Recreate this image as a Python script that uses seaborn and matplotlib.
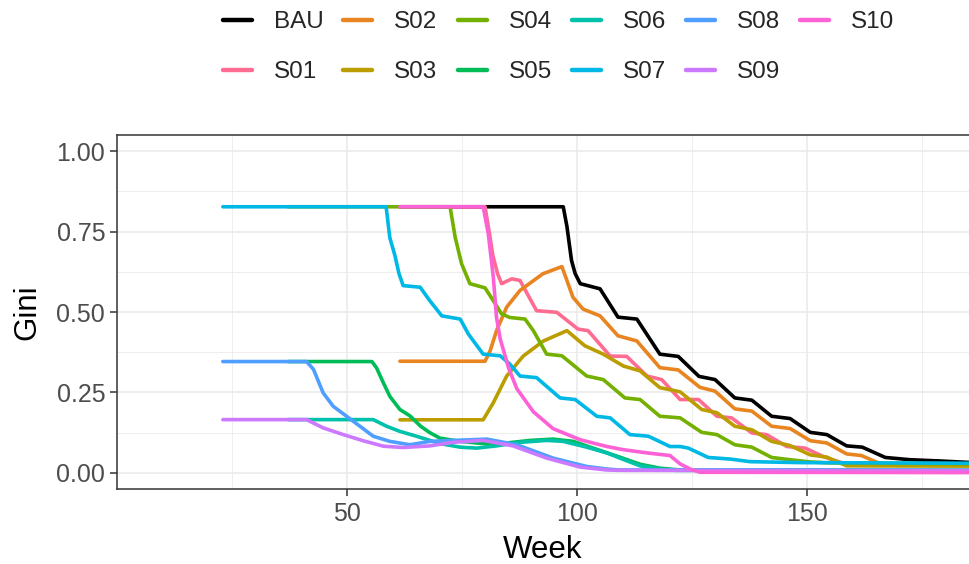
import math
import numpy as np
import pandas as pd
import matplotlib
matplotlib.use("Agg")
import matplotlib.pyplot as plt
from matplotlib.lines import Line2D
import seaborn as sns

# ---------------- data ----------------
scenarios = ["BAU", "S01", "S02", "S03", "S04", "S05", "S06", "S07", "S08", "S09", "S10"]

bau_week = [61.5, 97.0, 97.8, 98.8, 99.6, 100.7, 105.0, 108.9, 113.0, 118.0, 122.0, 126.5, 130.0, 134.3,
            138.0, 142.3, 146.3, 150.7, 154.3, 158.6, 162.0, 167.0, 172.4, 179.0, 186.0]
bau_gini = [0.827, 0.827, 0.766, 0.660, 0.619, 0.588, 0.572, 0.484, 0.478, 0.369, 0.362, 0.300, 0.290, 0.233,
            0.226, 0.176, 0.169, 0.126, 0.119, 0.084, 0.080, 0.048, 0.041, 0.037, 0.032]

s01_week = [61.5, 80.0, 81.0, 81.7, 82.7, 83.6, 85.8, 87.6, 91.2, 95.6, 100.2, 102.4, 107.2, 110.8, 115.2,
            118.4, 122.4, 126.4, 130.4, 133.6, 138.0, 141.2, 145.6, 149.6, 153.5, 155.4, 158.0, 186.0]
s01_gini = [0.827, 0.827, 0.740, 0.676, 0.620, 0.588, 0.603, 0.598, 0.504, 0.499, 0.447, 0.442, 0.363, 0.362, 0.301,
            0.290, 0.228, 0.228, 0.176, 0.171, 0.124, 0.119, 0.082, 0.077, 0.051, 0.041, 0.030, 0.028]

s02_week = [61.5, 80.0, 81.1, 82.5, 84.7, 87.6, 92.6, 96.7, 97.8, 99.1, 101.3, 105.0, 108.9, 113.0, 118.0,
            122.0, 126.7, 130.0, 134.3, 138.0, 142.3, 146.3, 150.7, 154.3, 158.6, 161.8, 166.0, 186.0]
s02_gini = [0.347, 0.347, 0.379, 0.442, 0.515, 0.567, 0.619, 0.641, 0.598, 0.546, 0.509, 0.488, 0.426, 0.410, 0.327,
            0.320, 0.266, 0.254, 0.199, 0.192, 0.145, 0.138, 0.100, 0.093, 0.059, 0.054, 0.028, 0.027]

s03_week = [61.5, 79.6, 81.8, 84.7, 88.3, 92.7, 97.8, 101.7, 105.7, 110.1, 113.7, 118.0, 122.4, 127.1, 130.4,
            134.3, 138.0, 142.3, 146.3, 150.7, 154.3, 158.6, 186.0]
s03_gini = [0.165, 0.165, 0.218, 0.301, 0.363, 0.410, 0.442, 0.395, 0.369, 0.332, 0.317, 0.265, 0.252, 0.197, 0.187,
            0.145, 0.134, 0.098, 0.085, 0.056, 0.049, 0.022, 0.021]

s04_week = [37.2, 72.4, 73.5, 74.9, 76.7, 80.0, 81.8, 83.6, 85.4, 88.7, 90.5, 93.4, 96.7, 102.1, 105.7, 110.4,
            113.7, 118.0, 122.4, 127.1, 130.4, 134.3, 138.0, 142.3, 146.3, 150.7, 155.0, 186.0]
s04_gini = [0.827, 0.827, 0.733, 0.650, 0.588, 0.575, 0.535, 0.494, 0.483, 0.478, 0.442, 0.369, 0.364, 0.301, 0.290, 0.233,
            0.228, 0.176, 0.171, 0.126, 0.119, 0.0875, 0.080, 0.048, 0.041, 0.034, 0.031, 0.028]

s05_week = [37.2, 55.4, 56.4, 57.9, 59.3, 61.5, 63.7, 66.0, 68.0, 70.2, 74.6, 80.4, 84.7, 89.8, 94.8, 99.2,
            103.5, 109.3, 113.7, 118.0, 122.4, 186.0]
s05_gini = [0.346, 0.346, 0.327, 0.280, 0.238, 0.197, 0.177, 0.145, 0.125, 0.108, 0.098, 0.090, 0.093, 0.101, 0.105, 0.098,
            0.077, 0.049, 0.027, 0.0147, 0.009, 0.008]

s06_week = [37.2, 55.7, 58.6, 61.5, 65.2, 68.0, 70.2, 74.6, 78.2, 82.5, 87.6, 93.4, 97.0, 102.1, 106.5, 109.3,
            113.7, 118.0, 121.3, 186.0]
s06_gini = [0.1656, 0.1656, 0.145, 0.129, 0.1135, 0.101, 0.091, 0.080, 0.077, 0.084, 0.095, 0.101, 0.098, 0.080, 0.062, 0.046,
            0.022, 0.0116, 0.008, 0.007]

s07_week = [23.0, 58.5, 59.3, 60.4, 61.3, 62.2, 65.9, 68.0, 70.6, 74.6, 76.4, 79.6, 83.3, 85.4, 87.6, 91.2,
            96.3, 99.6, 104.3, 107.2, 111.5, 115.5, 120.2, 122.4, 124.2, 128.5, 133.3, 137.6, 148.5, 186.0]
s07_gini = [0.827, 0.827, 0.731, 0.676, 0.619, 0.582, 0.577, 0.535, 0.488, 0.478, 0.431, 0.369, 0.364, 0.338, 0.301, 0.296,
            0.233, 0.228, 0.176, 0.171, 0.119, 0.114, 0.082, 0.082, 0.077, 0.048, 0.043, 0.035, 0.032, 0.030]

s08_week = [23.0, 41.2, 42.7, 44.8, 47.0, 49.9, 52.8, 55.7, 59.3, 63.7, 68.0, 73.1, 80.4, 86.9, 94.8, 102.1,
            106.5, 109.3, 186.0]
s08_gini = [0.346, 0.346, 0.322, 0.249, 0.207, 0.176, 0.145, 0.114, 0.098, 0.0875, 0.098, 0.101, 0.105, 0.0875, 0.046, 0.020,
            0.012, 0.009, 0.008]

s09_week = [23.0, 41.2, 44.8, 49.2, 53.5, 57.9, 62.2, 68.0, 73.1, 79.6, 86.1, 93.4, 100.7, 106.5, 109.3, 186.0]
s09_gini = [0.1656, 0.1656, 0.140, 0.119, 0.100, 0.083, 0.079, 0.084, 0.095, 0.101, 0.084, 0.046, 0.018, 0.009, 0.008, 0.007]

s10_week = [61.5, 79.6, 80.7, 81.8, 82.5, 83.3, 85.1, 86.9, 90.5, 94.8, 100.7, 106.5, 110.1, 115.9, 120.2,
            122.4, 124.6, 126.7, 186.0]
s10_gini = [0.827, 0.827, 0.744, 0.608, 0.483, 0.416, 0.327, 0.262, 0.190, 0.1375, 0.103, 0.082, 0.072, 0.061, 0.054,
            0.028, 0.012, 0.002, 0.001]

weeks = [bau_week, s01_week, s02_week, s03_week, s04_week, s05_week, s06_week, s07_week, s08_week, s09_week, s10_week]
ginis = [bau_gini, s01_gini, s02_gini, s03_gini, s04_gini, s05_gini, s06_gini, s07_gini, s08_gini, s09_gini, s10_gini]

x_ticks = [50, 100, 150]
y_ticks = [0.0, 0.25, 0.5, 0.75, 1.0]
y_tick_labels = ["0.00", "0.25", "0.50", "0.75", "1.00"]

# ---------------- colours (ggplot-like HCL hues) ----------------
def hcl_hex(h, c=100.0, l=65.0):
    hr = math.radians(h)
    u = c * math.cos(hr)
    v = c * math.sin(hr)
    Xn, Yn, Zn = 95.047, 100.0, 108.883
    Y = Yn * ((l + 16.0) / 116.0) ** 3
    den = Xn + 15 * Yn + 3 * Zn
    un, vn = 4 * Xn / den, 9 * Yn / den
    up = u / (13 * l) + un
    vp = v / (13 * l) + vn
    X = 9.0 * Y * up / (4.0 * vp)
    Z = Y * (12 - 3 * up - 20 * vp) / (4 * vp)
    X, Y, Z = X / 100, Y / 100, Z / 100
    r = 3.240479 * X - 1.537150 * Y - 0.498535 * Z
    g = -0.969256 * X + 1.875992 * Y + 0.041556 * Z
    b = 0.055648 * X - 0.204043 * Y + 1.057311 * Z

    def gam(t):
        t = 12.92 * t if t <= 0.0031308 else 1.055 * (t ** (1 / 2.4)) - 0.055
        return min(1.0, max(0.0, t))
    return "#%02X%02X%02X" % tuple(int(round(gam(t) * 255)) for t in (r, g, b))

palette = {"BAU": "#000000"}
for i, s in enumerate(scenarios[1:]):
    palette[s] = hcl_hex(36.0 * i)

# ---------------- data frame ----------------
frames = []
for s, w, g in zip(scenarios, weeks, ginis):
    frames.append(pd.DataFrame({"Week": w, "Gini": g, "Scenario": s}))
df = pd.concat(frames, ignore_index=True)

# ---------------- figure ----------------
sns.set_theme(style="white")
plt.rcParams["font.family"] = ["Liberation Sans", "DejaVu Sans"]

W, H = 969, 564
fig = plt.figure(figsize=(W / 100, H / 100), dpi=100)
left, top, bottom = 117, 135, 489
ax = fig.add_axes([left / W, 1 - bottom / H, 1 - left / W, (bottom - top) / H])

LW = 2.6
sns.lineplot(data=df, x="Week", y="Gini", hue="Scenario", hue_order=scenarios,
             palette=palette, estimator=None, sort=False, linewidth=LW,
             legend=False, ax=ax)

ax.set_xlim(0, 185.2)
ax.set_ylim(-0.05, 1.05)
ax.set_xticks(x_ticks)
ax.set_xticklabels([str(t) for t in x_ticks])
ax.set_yticks(y_ticks)
ax.set_yticklabels(y_tick_labels)
ax.set_xticks([25, 75, 125, 175], minor=True)
ax.set_yticks([0.125, 0.375, 0.625, 0.875], minor=True)

ax.grid(True, which="major", color="#EBEBEB", linewidth=1.2)
ax.grid(True, which="minor", color="#EBEBEB", linewidth=0.6)
ax.set_axisbelow(True)
ax.set_facecolor("white")

for side in ["left", "top", "bottom"]:
    ax.spines[side].set_visible(True)
    ax.spines[side].set_color("#333333")
    ax.spines[side].set_linewidth(1.1)
ax.spines["right"].set_visible(False)

ax.tick_params(axis="both", which="major", length=5, width=1.1, color="#333333",
               labelcolor="#4D4D4D", labelsize=18, pad=3.5, left=True, bottom=True)
ax.tick_params(axis="x", which="major", pad=4.5)
ax.tick_params(axis="both", which="minor", length=0)

ax.set_xlabel("Week", fontsize=22.5, color="black", labelpad=6)
ax.set_ylabel("Gini", fontsize=22.5, color="black", labelpad=10)

handles = [Line2D([], [], color=palette[s], linewidth=LW + 0.6) for s in scenarios]
fig.legend(handles, scenarios, ncol=6, loc="center", bbox_to_anchor=(0.5764, 0.9165),
           frameon=False, fontsize=17.5, handlelength=1.2, handletextpad=0.9,
           columnspacing=0.82, labelspacing=1.15, borderpad=0, borderaxespad=0)

fig.savefig("out.png", dpi=100)
